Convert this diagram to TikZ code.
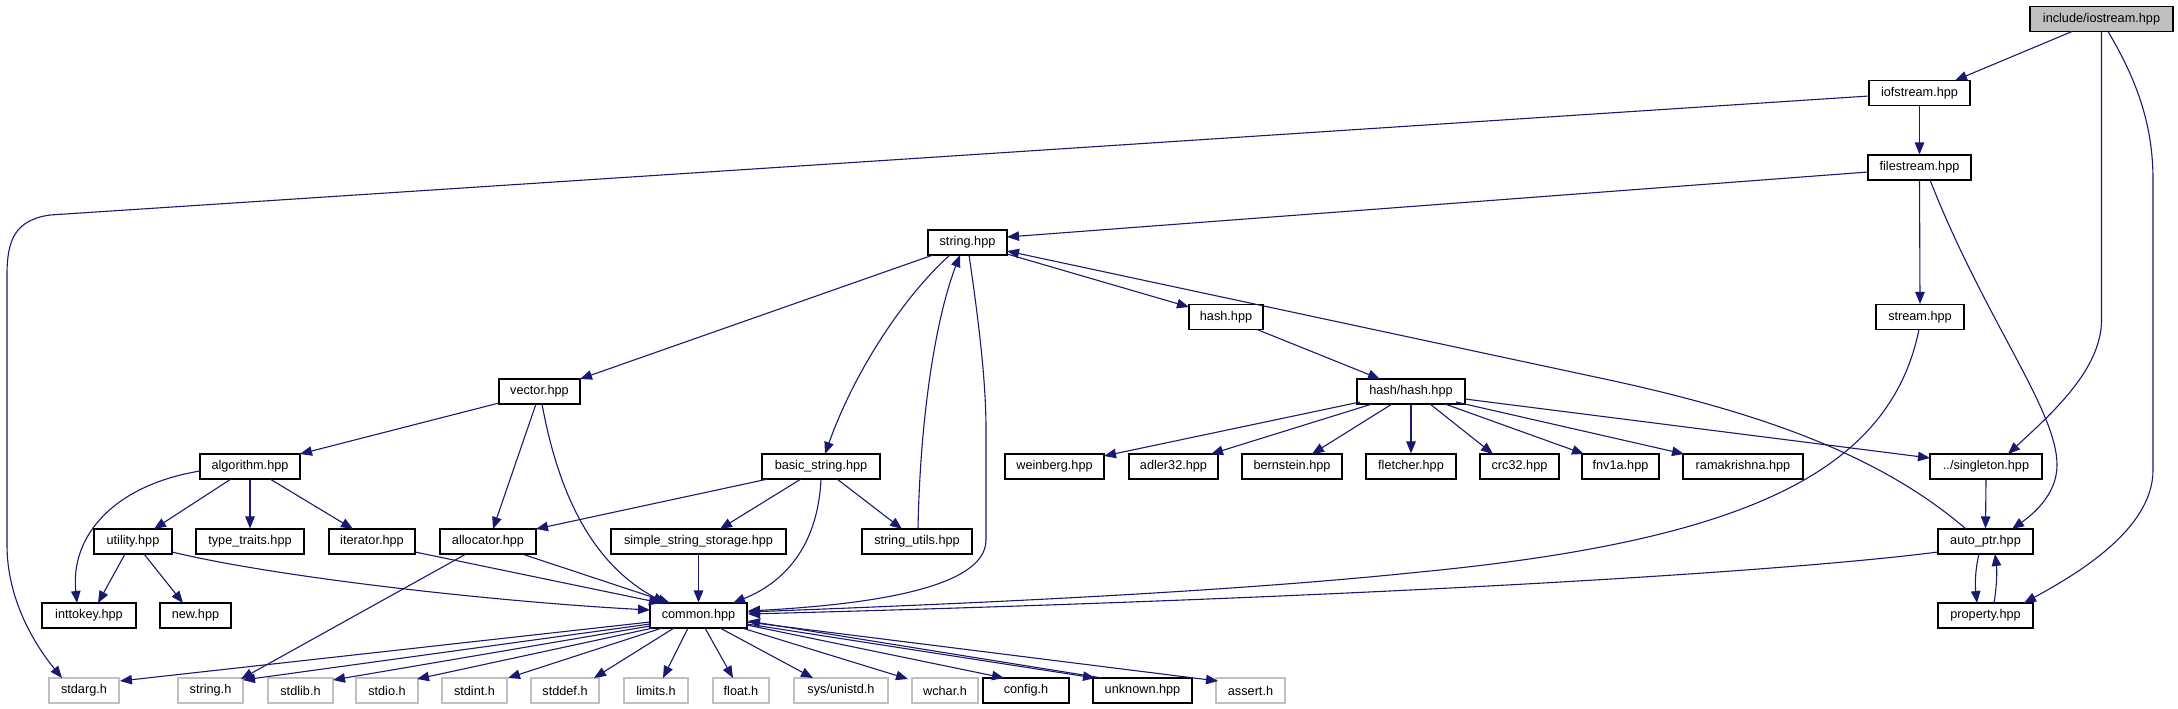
\documentclass[tikz,border=0pt]{standalone}
\usepackage{fontspec}
\setmainfont{Liberation Sans}
\usetikzlibrary{arrows.meta}
\definecolor{edgeblue}{HTML}{191970}
\definecolor{grayline}{HTML}{BFBFBF}
\definecolor{rootfill}{HTML}{BFBFBF}
\begin{document}
\begin{tikzpicture}[x=1pt,y=-1pt,
  box/.style={draw=black, line width=1.1pt, fill=white, minimum height=25pt, inner sep=0pt, font=\fontsize{12.7pt}{15pt}\selectfont},
  gbox/.style={box, draw=grayline},
  rbox/.style={box, fill=rootfill},
  e/.style={draw=edgeblue, line width=1.1pt, -{Triangle[length=12pt,width=9.5pt]}}]
\useasboundingbox (0,0) rectangle (2178,709);
% nodes
\node[rbox, minimum width=143pt] (iostream) at (2101.5,19) {include/iostream.hpp};
\node[box, minimum width=101pt] (iofstream) at (1919.5,93) {iofstream.hpp};
\node[box, minimum width=103pt] (filestream) at (1919.5,167.5) {filestream.hpp};
\node[box, minimum width=79pt] (stringhpp) at (967.5,242.5) {string.hpp};
\node[box, minimum width=74pt] (hash) at (1226,317) {hash.hpp};
\node[box, minimum width=88pt] (stream) at (1920,317) {stream.hpp};
\node[box, minimum width=81pt] (vector) at (539.5,391.5) {vector.hpp};
\node[box, minimum width=108pt] (hashhash) at (1411,391.5) {hash/hash.hpp};
\node[box, minimum width=100pt] (algorithm) at (250,466.5) {algorithm.hpp};
\node[box, minimum width=118pt] (basicstring) at (821,466.5) {basic\_string.hpp};
\node[box, minimum width=99pt] (weinberg) at (1054.5,466.5) {weinberg.hpp};
\node[box, minimum width=89pt] (adler) at (1173.5,466.5) {adler32.hpp};
\node[box, minimum width=100pt] (bernstein) at (1292,466.5) {bernstein.hpp};
\node[box, minimum width=90pt] (fletcher) at (1411,466.5) {fletcher.hpp};
\node[box, minimum width=79pt] (crc) at (1519.5,466.5) {crc32.hpp};
\node[box, minimum width=77pt] (fnv) at (1620.5,466.5) {fnv1a.hpp};
\node[box, minimum width=120pt] (rama) at (1743,466.5) {ramakrishna.hpp};
\node[box, minimum width=112pt] (singleton) at (1986,466.5) {../singleton.hpp};
\node[box, minimum width=78pt] (utility) at (133,541.5) {utility.hpp};
\node[box, minimum width=108pt] (typetraits) at (250,541.5) {type\_traits.hpp};
\node[box, minimum width=86pt] (iterator) at (372,541.5) {iterator.hpp};
\node[box, minimum width=96pt] (allocator) at (488,541.5) {allocator.hpp};
\node[box, minimum width=175pt] (sss) at (698.5,541.5) {simple\_string\_storage.hpp};
\node[box, minimum width=110pt] (strutils) at (917,541.5) {string\_utils.hpp};
\node[box, minimum width=95pt] (autoptr) at (1985.5,541.5) {auto\_ptr.hpp};
\node[box, minimum width=94pt] (inttokey) at (89,615.5) {inttokey.hpp};
\node[box, minimum width=71pt] (new) at (195.5,615.5) {new.hpp};
\node[box, minimum width=97pt] (common) at (698.5,615.5) {common.hpp};
\node[box, minimum width=95pt] (property) at (1985.5,615.5) {property.hpp};
\node[gbox, minimum width=70pt] (stdarg) at (84,690.5) {stdarg.h};
\node[gbox, minimum width=65pt] (stringh) at (210.5,690.5) {string.h};
\node[gbox, minimum width=65pt] (stdlib) at (300.5,690.5) {stdlib.h};
\node[gbox, minimum width=62pt] (stdio) at (387,690.5) {stdio.h};
\node[gbox, minimum width=65pt] (stdint) at (474.5,690.5) {stdint.h};
\node[gbox, minimum width=68pt] (stddef) at (565,690.5) {stddef.h};
\node[gbox, minimum width=64pt] (limits) at (656,690.5) {limits.h};
\node[gbox, minimum width=56pt] (float) at (741,690.5) {float.h};
\node[gbox, minimum width=94pt] (unistd) at (841,690.5) {sys/unistd.h};
\node[gbox, minimum width=66pt] (wchar) at (945,690.5) {wchar.h};
\node[box, minimum width=86pt] (config) at (1026,690.5) {config.h};
\node[box, minimum width=99pt] (unknown) at (1142.5,690.5) {unknown.hpp};
\node[gbox, minimum width=69pt] (assert) at (1250.5,690.5) {assert.h};
% edges
\draw[e] ([shift={(-29.5,12.5)}]iostream.center) -- ([shift={(35.5,-12.5)}]iofstream.center);
\draw[e] (iostream.south) -- (2101.5,320) .. controls (2101.5,370) and (2050,415) .. ([shift={(22,-12.5)}]singleton.center);
\draw[e] ([shift={(6.5,12.5)}]iostream.center) .. controls (2140,85) and (2153,130) .. (2153,180) -- (2153,470) .. controls (2153,530) and (2075,575) .. ([shift={(38.5,-12.5)}]property.center);
\draw[e] (iofstream.south) -- (filestream.north);
\draw[e] ([shift={(-50.5,3)}]iofstream.center) -- (50,215) .. controls (15,220) and (7,240) .. (7,275) -- (7,545) .. controls (7,600) and (35,645) .. ([shift={(-22,-12.5)}]stdarg.center);
\draw[e] ([shift={(-51.5,4.5)}]filestream.center) -- ([shift={(39.5,-5.5)}]stringhpp.center);
\draw[e] (filestream.south) -- (stream.north);
\draw[e] ([shift={(10.5,12.5)}]filestream.center) .. controls (1985,320) and (2057,410) .. (2057,465) .. controls (2057,495) and (2032,515) .. ([shift={(26.5,-12.5)}]autoptr.center);
\draw[e] ([shift={(-34.5,12.5)}]stringhpp.center) -- ([shift={(40.5,-12.5)}]vector.center);
\draw[e] ([shift={(-17.5,12.5)}]stringhpp.center) .. controls (905,295) and (855,370) .. ([shift={(4,-12.5)}]basicstring.center);
\draw[e] ([shift={(39.5,11.5)}]stringhpp.center) -- ([shift={(-37,-10)}]hash.center);
\draw[e] ([shift={(1.5,12.5)}]stringhpp.center) .. controls (980,330) and (986,385) .. (986,430) -- (986,540) .. controls (986,590) and (860,605) .. ([shift={(49.5,-4.5)}]common.center);
\draw[e] ([shift={(1,-12.5)}]strutils.center) .. controls (920,420) and (935,320) .. ([shift={(-7.5,12.5)}]stringhpp.center);
\draw[e] ([shift={(-19.5,-12.5)}]autoptr.center) .. controls (1880,455) and (1760,412) .. (1600,378) -- ([shift={(39.5,8.5)}]stringhpp.center);
\draw[e] ([shift={(-1,12.5)}]stream.center) .. controls (1890,470) and (1750,540) .. (1420,572) .. controls (1200,595) and (900,606) .. ([shift={(49.5,-3.5)}]common.center);
\draw[e] ([shift={(31,12.5)}]hash.center) -- ([shift={(-31,-12.5)}]hashhash.center);
\draw[e] ([shift={(-51,10.5)}]hashhash.center) -- ([shift={(49.5,-10.5)}]weinberg.center);
\draw[e] ([shift={(-39,12.5)}]hashhash.center) -- ([shift={(37.5,-12.5)}]adler.center);
\draw[e] ([shift={(-19,12.5)}]hashhash.center) -- ([shift={(20,-12.5)}]bernstein.center);
\draw[e] (hashhash.south) -- (fletcher.north);
\draw[e] ([shift={(19,12.5)}]hashhash.center) -- ([shift={(-26.5,-12.5)}]crc.center);
\draw[e] ([shift={(34,12.5)}]hashhash.center) -- ([shift={(-36.5,-12.5)}]fnv.center);
\draw[e] ([shift={(45,10.5)}]hashhash.center) -- ([shift={(-59,-12.5)}]rama.center);
\draw[e] ([shift={(54,7.5)}]hashhash.center) -- ([shift={(-56,-8.5)}]singleton.center);
\draw[e] (singleton.south) -- (autoptr.north);
\draw[e] ([shift={(-6.5,12.5)}]autoptr.center) .. controls (1975,570) and (1975,585) .. ([shift={(-8.5,-12.5)}]property.center);
\draw[e] ([shift={(8.5,-12.5)}]property.center) .. controls (1997,585) and (1997,570) .. ([shift={(9.5,12.5)}]autoptr.center);
\draw[e] ([shift={(-47.5,10.5)}]autoptr.center) .. controls (1800,570) and (1400,597) .. ([shift={(49.5,-1.5)}]common.center);
\draw[e] ([shift={(-40.5,11.5)}]vector.center) -- ([shift={(50,-12.5)}]algorithm.center);
\draw[e] ([shift={(-3.5,12.5)}]vector.center) -- ([shift={(5,-12.5)}]allocator.center);
\draw[e] ([shift={(2.5,12.5)}]vector.center) .. controls (556,480) and (585,560) .. ([shift={(-33.5,-12.5)}]common.center);
\draw[e] ([shift={(-19,12.5)}]algorithm.center) -- ([shift={(21,-12.5)}]utility.center);
\draw[e] (algorithm.south) -- (typetraits.north);
\draw[e] ([shift={(20,12.5)}]algorithm.center) -- ([shift={(-19,-12.5)}]iterator.center);
\draw[e] ([shift={(-50,4.5)}]algorithm.center) .. controls (115,485) and (70,535) .. ([shift={(-12,-12.5)}]inttokey.center);
\draw[e] ([shift={(-8,12.5)}]utility.center) -- ([shift={(9,-12.5)}]inttokey.center);
\draw[e] ([shift={(11,12.5)}]utility.center) -- ([shift={(-12.5,-12.5)}]new.center);
\draw[e] ([shift={(39,10.5)}]utility.center) .. controls (280,578) and (500,602) .. ([shift={(-48.5,-5.5)}]common.center);
\draw[e] ([shift={(43,10.5)}]iterator.center) -- ([shift={(-37.5,-12.5)}]common.center);
\draw[e] ([shift={(34,12.5)}]allocator.center) -- ([shift={(-28.5,-12.5)}]common.center);
\draw[e] ([shift={(-22,12.5)}]allocator.center) -- ([shift={(30.5,-11.5)}]stringh.center);
\draw[e] ([shift={(-53,12.5)}]basicstring.center) -- ([shift={(48,-12.5)}]allocator.center);
\draw[e] ([shift={(-20,12.5)}]basicstring.center) -- ([shift={(21.5,-12.5)}]sss.center);
\draw[e] ([shift={(16,12.5)}]basicstring.center) -- ([shift={(-15,-12.5)}]strutils.center);
\draw[e] (basicstring.south) .. controls (818,540) and (790,580) .. ([shift={(34.5,-12.5)}]common.center);
\draw[e] (sss.south) -- (common.north);
\draw[e] ([shift={(-48.5,6.5)}]common.center) -- ([shift={(36,-9.5)}]stdarg.center);
\draw[e] ([shift={(-48.5,8.5)}]common.center) -- ([shift={(32.5,-10.5)}]stringh.center);
\draw[e] ([shift={(-48.5,10.5)}]common.center) -- ([shift={(32.5,-10.5)}]stdlib.center);
\draw[e] ([shift={(-45.5,12.5)}]common.center) -- ([shift={(30,-11.5)}]stdio.center);
\draw[e] ([shift={(-36.5,12.5)}]common.center) -- ([shift={(33.5,-12.5)}]stdint.center);
\draw[e] ([shift={(-24.5,12.5)}]common.center) -- ([shift={(29,-12.5)}]stddef.center);
\draw[e] ([shift={(-10.5,12.5)}]common.center) -- ([shift={(7,-12.5)}]limits.center);
\draw[e] ([shift={(6.5,12.5)}]common.center) -- ([shift={(-8,-12.5)}]float.center);
\draw[e] ([shift={(21.5,12.5)}]common.center) -- ([shift={(-28,-12.5)}]unistd.center);
\draw[e] ([shift={(43.5,12.5)}]common.center) -- ([shift={(-37,-11.5)}]wchar.center);
\draw[e] ([shift={(48.5,9.5)}]common.center) -- ([shift={(-22,-12.5)}]config.center);
\draw[e] ([shift={(48.5,8.5)}]common.center) -- ([shift={(-47.5,-12.5)}]unknown.center);
\draw[e] ([shift={(-40.5,-12.5)}]unknown.center) -- ([shift={(49.5,5.5)}]common.center);
\draw[e] ([shift={(48.5,6.5)}]common.center) -- ([shift={(-32.5,-9.5)}]assert.center);
\end{tikzpicture}
\end{document}
